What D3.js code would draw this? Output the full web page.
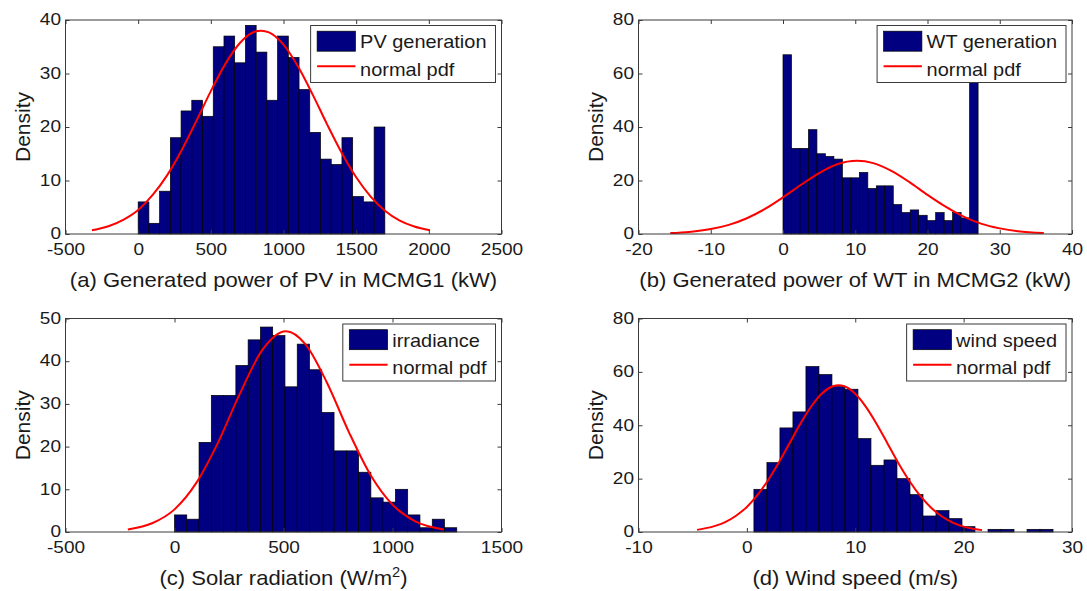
<!DOCTYPE html>
<html>
<head>
<meta charset="utf-8">
<script src="https://cdn.jsdelivr.net/npm/d3@7"></script>
<style>
  body { margin: 0; background: #fff; }
  svg { display: block; }
</style>
</head>
<body>
<svg id="fig" width="1087" height="591"></svg>
<script>
// ---- values ----

// (a) PV generation
const pvDensity = [6, 2, 8, 18, 23, 25, 22, 35, 37, 32, 39, 34, 25, 37, 33, 27, 19, 14, 13, 18, 7, 6, 20];
const pvBinStart = 0, pvBinWidth = 73.8;
const pvPdfX = [-318, -200, -100, 0, 100, 200, 300, 400, 500, 600, 700, 800, 845, 900, 1000, 1100, 1200, 1300, 1400, 1500, 1600, 1700, 1800, 1900, 2008];
const pvPdfY = [0.7, 1.5, 2.7, 4.5, 7.3, 11.0, 15.7, 21.1, 26.7, 31.8, 35.7, 37.8, 38, 37.7, 35.4, 31.3, 26.1, 20.5, 15.2, 10.6, 7.0, 4.3, 2.5, 1.4, 0.7];
const pvTicksX = [-500, 0, 500, 1000, 1500, 2000, 2500];
const pvTicksY = [0, 10, 20, 30, 40];

// (b) WT generation
const wtDensity = [67, 32, 32, 39, 30, 29, 28, 21, 21, 23, 17, 18, 18, 11, 8, 9, 7, 5, 8, 5, 8, 6, 62];
const wtBinStart = 0, wtBinWidth = 1.174;
const wtPdfX = [-15.6, -13, -10, -7.5, -5, -2.5, 0, 2.5, 5, 7.5, 10.25, 12.5, 15, 17.5, 20, 22.5, 25, 27.5, 30, 32.5, 36.1];
const wtPdfY = [0.33, 0.77, 1.83, 3.42, 5.9, 9.36, 13.7, 18.4, 22.8, 26.1, 27.4, 26.5, 23.6, 19.4, 14.6, 10.2, 6.5, 3.8, 2.1, 1.0, 0.33];
const wtTicksX = [-20, -10, 0, 10, 20, 30, 40];
const wtTicksY = [0, 20, 40, 60, 80];

// (c) irradiance
const irrDensity = [4, 3, 21, 32, 32, 39, 45, 48, 46, 34, 44, 38, 28, 19, 19, 14, 8, 7, 10, 4, 1, 3, 1];
const irrBinStart = 0, irrBinWidth = 56.3;
const irrPdfX = [-214, -100, 0, 100, 200, 300, 400, 511, 600, 700, 800, 900, 1000, 1100, 1236];
const irrPdfY = [0.6, 2.1, 5.3, 11.5, 21.0, 32.4, 42.4, 47, 44.0, 34.9, 23.4, 13.3, 6.4, 2.6, 0.6];
const irrTicksX = [-500, 0, 500, 1000, 1500];
const irrTicksY = [0, 10, 20, 30, 40, 50];

// (d) wind speed
const windDensity = [16, 26, 39, 45, 62, 59, 54.5, 53.5, 35, 25, 27, 20, 14, 6, 8, 5, 2, 0, 1, 1, 0, 1, 1];
const windBinStart = 0.65, windBinWidth = 1.2;
const windPdfX = [-4.6, -3, -2, -1, 0, 1, 2, 3, 4, 5, 6, 7, 8, 8.45, 9, 10, 11, 12, 13, 14, 15, 16, 17, 18, 19, 20, 21, 21.7];
const windPdfY = [0.8, 2.2, 3.7, 6.1, 9.4, 14.0, 19.7, 26.4, 33.7, 41.0, 47.4, 52.2, 54.7, 55, 54.6, 51.8, 46.8, 40.3, 33.0, 25.7, 19.1, 13.5, 9.1, 5.8, 3.5, 2.0, 1.1, 0.7];
const windTicksX = [-10, 0, 10, 20, 30];
const windTicksY = [0, 20, 40, 60, 80];

const pdfLabel = "normal pdf";

// ---- layout / style ----
const FONT = "'Liberation Sans', Arial, Helvetica, sans-serif";
const TEXT = "#1a1a1a";
const AXIS = "#3a3a3a";
const BAR = "#000080";
const TICK_SX = 1.12, LABEL_SX = 1.05, LEG_SX = 1.05;

const panels = [
  { xlabel: "(a) Generated power of PV in MCMG1 (kW)", name: "PV generation",
    bins: pvDensity, binStart: pvBinStart, binWidth: pvBinWidth, pdfX: pvPdfX, pdfY: pvPdfY,
    xTicks: pvTicksX, yTicks: pvTicksY, box: [65.5, 20, 501.5, 234] },
  { xlabel: "(b) Generated power of WT in MCMG2 (kW)", name: "WT generation",
    bins: wtDensity, binStart: wtBinStart, binWidth: wtBinWidth, pdfX: wtPdfX, pdfY: wtPdfY,
    xTicks: wtTicksX, yTicks: wtTicksY, box: [638.5, 20, 1072, 234] },
  { xlabel: "(c) Solar radiation (W/m", sup: "2", name: "irradiance",
    bins: irrDensity, binStart: irrBinStart, binWidth: irrBinWidth, pdfX: irrPdfX, pdfY: irrPdfY,
    xTicks: irrTicksX, yTicks: irrTicksY, box: [65.5, 318.5, 501.5, 532] },
  { xlabel: "(d) Wind speed (m/s)", name: "wind speed",
    bins: windDensity, binStart: windBinStart, binWidth: windBinWidth, pdfX: windPdfX, pdfY: windPdfY,
    xTicks: windTicksX, yTicks: windTicksY, box: [638.5, 318.5, 1072, 532] }
];

const svg = d3.select("#fig");

function drawPanel(p) {
  const [x0, y0, x1, y1] = p.box;
  const g = svg.append("g");

  const x = d3.scaleLinear().domain(d3.extent(p.xTicks)).range([x0, x1]);
  const y = d3.scaleLinear().domain(d3.extent(p.yTicks)).range([y1, y0]);

  // histogram bars
  g.append("g").selectAll("rect")
    .data(p.bins)
    .join("rect")
    .attr("x", (d, i) => x(p.binStart + i * p.binWidth))
    .attr("width", (d, i) => x(p.binStart + (i + 1) * p.binWidth) - x(p.binStart + i * p.binWidth))
    .attr("y", d => y(d))
    .attr("height", d => y(0) - y(d))
    .attr("fill", BAR)
    .attr("stroke", "#000")
    .attr("stroke-width", 0.7);

  // fitted curve
  const line = d3.line()
    .x((d, i) => x(p.pdfX[i]))
    .y(d => y(d))
    .curve(d3.curveMonotoneX);
  g.append("path")
    .attr("d", line(p.pdfY))
    .attr("fill", "none")
    .attr("stroke", "#ff0000")
    .attr("stroke-width", 2);

  // axes box
  g.append("rect")
    .attr("x", x0).attr("y", y0)
    .attr("width", x1 - x0).attr("height", y1 - y0)
    .attr("fill", "none").attr("stroke", AXIS).attr("stroke-width", 1);

  const styleAxis = (a) => {
    a.attr("color", AXIS).attr("font-family", FONT);
    a.select(".domain").remove();
  };

  const bottom = g.append("g")
    .attr("transform", `translate(0,${y1})`)
    .call(d3.axisBottom(x).tickValues(p.xTicks).tickSizeInner(-4).tickSizeOuter(0)
      .tickPadding(8.5).tickFormat(d => String(d)))
    .call(styleAxis);
  bottom.selectAll("text")
    .attr("font-size", 17).attr("fill", TEXT)
    .attr("transform", `scale(${TICK_SX},1)`);

  g.append("g")
    .attr("transform", `translate(0,${y0})`)
    .call(d3.axisTop(x).tickValues(p.xTicks).tickSizeInner(-4).tickSizeOuter(0).tickFormat(""))
    .call(styleAxis);

  const left = g.append("g")
    .attr("transform", `translate(${x0},0)`)
    .call(d3.axisLeft(y).tickValues(p.yTicks).tickSizeInner(-4).tickSizeOuter(0)
      .tickPadding(4.5).tickFormat(d => String(d)))
    .call(styleAxis);
  left.selectAll("text")
    .attr("font-size", 17).attr("fill", TEXT)
    .attr("x", -4.5 / TICK_SX)
    .attr("dy", "0.28em")
    .attr("transform", `scale(${TICK_SX},1)`);

  g.append("g")
    .attr("transform", `translate(${x1},0)`)
    .call(d3.axisRight(y).tickValues(p.yTicks).tickSizeInner(-4).tickSizeOuter(0).tickFormat(""))
    .call(styleAxis);

  // axis labels
  g.append("text")
    .attr("transform", `translate(${x0 - 43},${(y0 + y1) / 2}) rotate(-90)`)
    .attr("text-anchor", "middle")
    .attr("dy", "0.35em")
    .attr("font-family", FONT).attr("font-size", 21).attr("fill", TEXT)
    .text("Density");

  const xl = g.append("text")
    .attr("transform", `translate(${(x0 + x1) / 2},${y1 + 53}) scale(${LABEL_SX},1)`)
    .attr("text-anchor", "middle")
    .attr("font-family", FONT).attr("font-size", 21).attr("fill", TEXT);
  xl.append("tspan").text(p.xlabel);
  if (p.sup) {
    xl.append("tspan").attr("dy", -8).attr("font-size", 14).text(p.sup);
    xl.append("tspan").attr("dy", 8).text(")");
  }

  // legend
  const lg = g.append("g");
  const bg = lg.append("rect");
  const t1 = lg.append("text").attr("y", 23).text(p.name);
  const t2 = lg.append("text").attr("y", 50.5).text(pdfLabel);
  lg.selectAll("text")
    .attr("font-family", FONT).attr("font-size", 19).attr("fill", TEXT)
    .attr("x", 49.5 / LEG_SX)
    .attr("transform", `scale(${LEG_SX},1)`);
  const tw = Math.max(t1.node().getComputedTextLength(), t2.node().getComputedTextLength()) * LEG_SX;
  const lw = 49.5 + tw + 9, lh = 57;
  bg.attr("width", lw).attr("height", lh)
    .attr("fill", "#fff").attr("stroke", AXIS).attr("stroke-width", 1);
  lg.append("rect")
    .attr("x", 6.5).attr("y", 5.7).attr("width", 38.3).attr("height", 20)
    .attr("fill", BAR).attr("stroke", "#000").attr("stroke-width", 0.7);
  lg.append("line")
    .attr("x1", 6.5).attr("x2", 44.8).attr("y1", 40.7).attr("y2", 40.7)
    .attr("stroke", "#ff0000").attr("stroke-width", 2);
  lg.attr("transform", `translate(${x1 - 6 - lw},${y0 + 5.5})`);
}

panels.forEach(drawPanel);
</script>
</body>
</html>
